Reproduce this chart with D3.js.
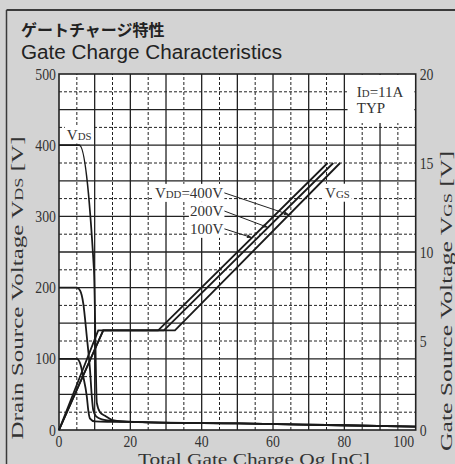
<!DOCTYPE html>
<html>
<head>
<meta charset="utf-8">
<script src="https://cdn.jsdelivr.net/npm/d3@7/dist/d3.min.js"></script>
<style>
  body { margin: 0; background: #d3d3d3; }
  svg { display: block; }
</style>
</head>
<body>
<svg id="chart" width="455" height="464"></svg>
<script>
(function () {

  // tick values for the three axes
  var qgTicks = [0, 20, 40, 60, 80, 100]
  var vdsTicks = [0, 100, 200, 300, 400, 500]
  var vgsTicks = [0, 5, 10, 15, 20]

  // drain-source voltage curves, [Qg nC, VDS V], one per VDD
  var vds400 = [[0, 400], [5.7, 400], [9.8, 225], [10.6, 38], [11.5, 25], [12.9, 20], [15, 14], [18, 12], [25, 10.8], [50, 9.2], [75, 7], [100, 4.7]]
  var vds200 = [[0, 200], [5, 200], [5.9, 196], [6.8, 178], [7.8, 131], [8.7, 84], [9.2, 47], [9.6, 28], [10.4, 19], [12, 15], [16, 12.5], [25, 10.8], [50, 9.2], [75, 7], [100, 4.7]]
  var vds100 = [[0, 100], [5, 100], [5.9, 94], [6.8, 75], [7.8, 47], [8.2, 28], [8.7, 16], [10, 12], [15, 11.5], [25, 10.8], [50, 9.2], [75, 7], [100, 4.7]]

  // gate-source voltage curves, [Qg nC, VGS V]
  var vgs400 = [[0, 0], [12.4, 5.6], [32.5, 5.6], [78.8, 15]]
  var vgs200 = [[0, 0], [12.4, 5.6], [29.4, 5.6], [76.9, 15]]
  var vgs100 = [[0, 0], [11, 5.6], [27.8, 5.6], [75.3, 15]]

  var svg = d3.select('#chart')
  var W = 455, H = 464

  var x = d3.scaleLinear().domain([0, 100]).range([59, 415.7])
  var yL = d3.scaleLinear().domain([0, 500]).range([430, 74])
  var yR = d3.scaleLinear().domain([0, 20]).range([430, 74])

  var serif = '"Liberation Serif", "Times New Roman", serif'

  // frame: top band and left edge
  svg.append('rect').attr('width', W).attr('height', H).attr('fill', '#d3d3d3')
  svg.append('line').attr('x1', 6.5).attr('x2', W).attr('y1', 10).attr('y2', 10)
    .attr('stroke', '#3a3a3a').attr('stroke-width', 2)
  svg.append('line').attr('x1', 6.5).attr('x2', 6.5).attr('y1', 10).attr('y2', H)
    .attr('stroke', '#3a3a3a').attr('stroke-width', 1.5)

  svg.append('text').attr('x', 21).attr('y', 36)
    .attr('font-family', '"Noto Sans CJK JP", sans-serif').attr('font-size', 16).attr('font-weight', 'bold')
    .attr('fill', '#222').text('ゲートチャージ特性')
  svg.append('text').attr('x', 21).attr('y', 59)
    .attr('font-family', '"Liberation Sans", Arial, sans-serif').attr('font-size', 20)
    .attr('textLength', 261).attr('lengthAdjust', 'spacingAndGlyphs')
    .attr('fill', '#222').text('Gate Charge Characteristics')

  // plot background
  svg.append('rect').attr('x', x(0)).attr('y', yL(500))
    .attr('width', x(100) - x(0)).attr('height', yL(0) - yL(500)).attr('fill', 'white')

  // grid: dashed halves, solid tens
  var grid = svg.append('g')
  grid.selectAll('.vd').data(d3.range(5, 100, 10)).enter().append('line')
    .attr('x1', d => x(d)).attr('x2', d => x(d)).attr('y1', yL(0)).attr('y2', yL(500))
    .attr('stroke', '#222').attr('stroke-width', 1).attr('stroke-dasharray', '3,2')
  grid.selectAll('.hd').data(d3.range(25, 500, 50)).enter().append('line')
    .attr('y1', d => yL(d)).attr('y2', d => yL(d)).attr('x1', x(0)).attr('x2', x(100))
    .attr('stroke', '#222').attr('stroke-width', 1).attr('stroke-dasharray', '3,2')
  grid.selectAll('.vs').data(d3.range(10, 100, 10)).enter().append('line')
    .attr('x1', d => x(d)).attr('x2', d => x(d)).attr('y1', yL(0)).attr('y2', yL(500))
    .attr('stroke', '#222').attr('stroke-width', 1.3)
  grid.selectAll('.hs').data(d3.range(50, 500, 50)).enter().append('line')
    .attr('y1', d => yL(d)).attr('y2', d => yL(d)).attr('x1', x(0)).attr('x2', x(100))
    .attr('stroke', '#222').attr('stroke-width', 1.3)

  svg.append('rect').attr('x', x(0)).attr('y', yL(500))
    .attr('width', x(100) - x(0)).attr('height', yL(0) - yL(500))
    .attr('fill', 'none').attr('stroke', '#222').attr('stroke-width', 1.6)

  // tick labels
  function tickText(t, n) {
    return t.attr('font-family', serif).attr('font-size', 16).attr('fill', '#333')
      .attr('textLength', n * 6.9).attr('lengthAdjust', 'spacingAndGlyphs')
  }
  svg.selectAll('.tl').data(vdsTicks).enter().append('text')
    .attr('x', x(0) - 3).attr('y', d => yL(d) + 5.5).attr('text-anchor', 'end')
    .text(d => d).call(s => s.each(function (d) { tickText(d3.select(this), String(d).length) }))
  svg.selectAll('.tr').data(vgsTicks).enter().append('text')
    .attr('x', x(100) + 4).attr('y', d => yR(d) + 5.5).attr('text-anchor', 'start')
    .text(d => d).call(s => s.each(function (d) { tickText(d3.select(this), String(d).length) }))
  svg.selectAll('.tb').data(qgTicks).enter().append('text')
    .attr('x', (d, i) => x(d) - (i === qgTicks.length - 1 ? 12 : 0)).attr('y', yL(0) + 17)
    .attr('text-anchor', 'middle')
    .text(d => d).call(s => s.each(function (d) { tickText(d3.select(this), String(d).length) }))

  // text with small-cap style subscripts
  function subText(g, px, py, parts, size) {
    var t = g.append('text').attr('x', px).attr('y', py)
      .attr('font-family', serif).attr('font-size', size).attr('fill', '#333')
    parts.forEach(function (p) {
      t.append('tspan').attr('font-size', p[1] ? size * 0.72 : size).text(p[0])
    })
    return t
  }

  // axis titles
  subText(svg, 0, 0, [['Drain Source Voltage ', 0], ['V', 0], ['DS', 1], [' [V]', 0]], 17)
    .attr('text-anchor', 'middle').attr('transform', 'translate(23,288) rotate(-90)')
    .attr('textLength', 303).attr('lengthAdjust', 'spacingAndGlyphs')
  subText(svg, 0, 0, [['Gate Source Voltage  ', 0], ['V', 0], ['GS', 1], [' [V]', 0]], 17)
    .attr('text-anchor', 'middle').attr('transform', 'translate(452,301) rotate(-90)')
    .attr('textLength', 300).attr('lengthAdjust', 'spacingAndGlyphs')
  subText(svg, 254, 465, [['Total Gate Charge  Qg [nC]', 0]], 17)
    .attr('text-anchor', 'middle').attr('textLength', 232).attr('lengthAdjust', 'spacingAndGlyphs')

  // curves
  var boxes = svg.append('g')
  var lineV = d3.line().x(d => x(d[0])).y(d => yL(d[1])).curve(d3.curveMonotoneX)
  var lineG = d3.line().x(d => x(d[0])).y(d => yR(d[1]))

  svg.selectAll('.vds').data([vds400, vds200, vds100]).enter().append('path')
    .attr('d', lineV).attr('fill', 'none').attr('stroke', '#1a1a1a').attr('stroke-width', 1.8)
  svg.selectAll('.vgs').data([vgs400, vgs200, vgs100]).enter().append('path')
    .attr('d', lineG).attr('fill', 'none').attr('stroke', '#1a1a1a').attr('stroke-width', 1.8)

  // annotations with white boxes behind
  var notes = svg.append('g')
  function boxed(t, pad) {
    var b = t.node().getBBox()
    boxes.append('rect').attr('x', b.x - pad).attr('y', b.y - 1)
      .attr('width', b.width + pad * 2).attr('height', b.height + 2).attr('fill', 'white')
  }
  boxed(subText(notes, x(2.2), yL(408), [['V', 0], ['DS', 1]], 15), 2)
  boxed(subText(notes, x(74.6), yR(13.05), [['V', 0], ['GS', 1]], 15), 2)
  subText(notes, x(83.5), yL(467.5), [['I', 0], ['D', 1], ['=11A', 0]], 15)
  subText(notes, x(83.5), yL(445), [['TYP', 0]], 15)
  boxes.append('rect').attr('x', x(80.9)).attr('y', yL(500) + 1)
    .attr('width', x(99.6) - x(80.9)).attr('height', 48).attr('fill', 'white')

  var vddLabels = [
    { parts: [['V', 0], ['DD', 1], ['=400V', 0]], q: 26.9, v: 326, curve: vgs400, tq: 64.5 },
    { parts: [['200V', 0]], q: 36.7, v: 300.5, curve: vgs200, tq: 58.6 },
    { parts: [['100V', 0]], q: 36.7, v: 275.5, curve: vgs100, tq: 54.1 }
  ]
  svg.append('defs').append('marker').attr('id', 'ah').attr('viewBox', '0 0 10 10')
    .attr('refX', 10).attr('refY', 5).attr('markerWidth', 7).attr('markerHeight', 5)
    .attr('orient', 'auto').append('path').attr('d', 'M0,1L10,5L0,9z').attr('fill', '#222')

  function valueAt(curve, q) {
    for (var i = 1; i < curve.length; i++) {
      if (q <= curve[i][0]) {
        var a = curve[i - 1], b = curve[i]
        return a[1] + (b[1] - a[1]) * (q - a[0]) / (b[0] - a[0])
      }
    }
    return curve[curve.length - 1][1]
  }

  vddLabels.forEach(function (l) {
    var t = subText(notes, x(l.q), yL(l.v), l.parts, 15)
    boxed(t, 1)
    var b = t.node().getBBox()
    notes.append('line').attr('x1', b.x + b.width + 1).attr('y1', b.y + b.height / 2)
      .attr('x2', x(l.tq)).attr('y2', yR(valueAt(l.curve, l.tq)))
      .attr('stroke', '#222').attr('stroke-width', 1).attr('marker-end', 'url(#ah)')
  })

})()
</script>
</body>
</html>
